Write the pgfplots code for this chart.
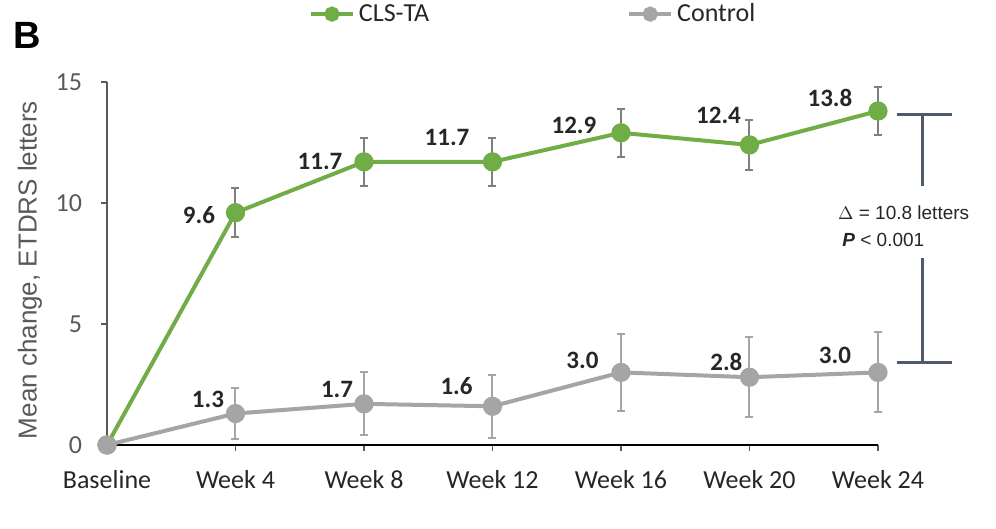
\documentclass[border=0pt]{standalone}
\usepackage{pgfplots}
\pgfplotsset{compat=1.18}
\usepackage{fontspec}
\setmainfont{Carlito}
\newfontfamily\arialfont{Liberation Sans}
\definecolor{cgreen}{HTML}{70AD47}
\definecolor{cgray}{HTML}{A5A5A5}
\definecolor{ebgray}{HTML}{7F7F7F}
\definecolor{slate}{HTML}{4D5B6B}
\definecolor{axgray}{HTML}{595959}

\pgfplotstableread{
x y err
0 0 0
1 9.6 1.0
2 11.7 1.0
3 11.7 1.0
4 12.9 1.0
5 12.4 1.05
6 13.8 1.0
}\clstable
\pgfplotstableread{
x y err
0 0 0
1 1.3 1.05
2 1.7 1.3
3 1.6 1.3
4 3.0 1.6
5 2.8 1.65
6 3.0 1.65
}\ctltable

\begin{document}
\begin{tikzpicture}
\path[use as bounding box] (-53.5pt,-42pt) rectangle (444.5pt,222.5pt);
\begin{axis}[
  at={(0pt,0pt)}, anchor=south west,
  scale only axis, width=385.5pt, height=181.5pt,
  xmin=0, xmax=6, ymin=0, ymax=15,
  clip=false,
  axis x line*=bottom, axis y line*=left,
  x axis line style={black, line width=1.3pt},
  y axis line style={axgray, line width=1pt},
  xtick={0,1,2,3,4,5,6},
  xticklabels={Baseline, Week 4, Week 8, Week 12, Week 16, Week 20, Week 24},
  ytick={0,5,10,15},
  tick align=outside, major tick length=3pt,
  tick style={axgray, line width=0.8pt},
  xticklabel style={font=\fontsize{13}{15}\selectfont, text=black!85, yshift=-6pt},
  yticklabel style={font=\fontsize{13}{15}\selectfont, text=axgray, xshift=-6pt},
  /pgf/number format/assume math mode=true,
  ylabel={\arialfont Mean change, ETDRS letters},
  every axis y label/.style={at={(axis description cs:-0.0999,0.482)}, rotate=90, anchor=center, font=\fontsize{13}{15}\selectfont, text=axgray},
  legend style={at={(axis description cs:0.554,1.187)}, anchor=center, draw=none, fill=none,
    legend columns=2, font=\fontsize{13}{15}\selectfont, text=black!85,
    /tikz/every even column/.append style={column sep=97pt}},
  legend image code/.code={\draw[mark repeat=2,mark phase=2,#1,mark size=2.8pt] plot coordinates {(0pt,0pt)(10.5pt,0pt)(21pt,0pt)};},
]
\addplot[color=cgreen, line width=2pt, mark=*, mark size=3.8pt,
  mark options={fill=cgreen, draw=cgreen},
  error bars/.cd, y dir=both, y explicit,
  error bar style={ebgray, line width=1pt},
  error mark options={rotate=90, mark size=2pt, ebgray, line width=1pt}]
  table[x=x, y=y, y error=err] {\clstable};
\addlegendentry{CLS-TA}
\addplot[color=cgray, line width=2pt, mark=*, mark size=3.8pt,
  mark options={fill=cgray, draw=cgray},
  error bars/.cd, y dir=both, y explicit,
  error bar style={cgray, line width=1pt},
  error mark options={rotate=90, mark size=2pt, cgray, line width=1pt}]
  table[x=x, y=y, y error=err] {\ctltable};
\addlegendentry{Control}

% data labels
\begin{scope}[every node/.style={font=\bfseries\fontsize{12.5}{15}\selectfont, text=black!85, inner sep=0pt}]
\node at (axis cs:0.716,9.5) {9.6};
\node at (axis cs:1.658,11.7) {11.7};
\node at (axis cs:2.646,12.69) {11.7};
\node at (axis cs:3.634,13.22) {12.9};
\node at (axis cs:4.759,13.64) {12.4};
\node at (axis cs:5.626,14.34) {13.8};
\node at (axis cs:0.786,1.90) {1.3};
\node at (axis cs:1.79,2.31) {1.7};
\node at (axis cs:2.72,2.44) {1.6};
\node at (axis cs:3.70,3.51) {3.0};
\node at (axis cs:4.82,3.43) {2.8};
\node at (axis cs:5.665,3.72) {3.0};
\end{scope}

% bracket
\draw[slate, line width=1.5pt] (axis cs:6.148,13.64) -- (axis cs:6.576,13.64);
\draw[slate, line width=1.5pt] (axis cs:6.35,13.64) -- (axis cs:6.35,10.7);
\draw[slate, line width=1.5pt] (axis cs:6.35,7.73) -- (axis cs:6.35,3.39);
\draw[slate, line width=1.5pt] (axis cs:6.148,3.39) -- (axis cs:6.576,3.39);
\node[font=\arialfont\fontsize{9.5}{11}\selectfont, text=black!85, inner sep=0pt] at (axis cs:6.20,9.59) {$\Delta$ = 10.8 letters};
\node[font=\arialfont\fontsize{9.5}{11}\selectfont, text=black!85, inner sep=0pt, anchor=west] at (axis cs:5.72,8.47) {\textbf{\textit{P}} < 0.001};
\end{axis}
\node[font=\arialfont\bfseries\fontsize{19}{22}\selectfont, inner sep=0pt] at (-40pt,205pt) {B};
\end{tikzpicture}
\end{document}
